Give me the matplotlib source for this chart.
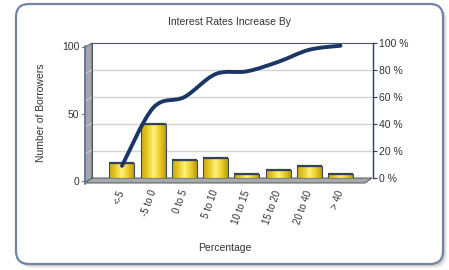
import numpy as np
import matplotlib
matplotlib.use("Agg")
import matplotlib.pyplot as plt
from matplotlib.patches import FancyBboxPatch, Polygon, PathPatch
from matplotlib.path import Path
from matplotlib.colors import LinearSegmentedColormap
import matplotlib.transforms as mtransforms

plt.rcParams['font.family'] = ['Liberation Sans', 'DejaVu Sans']

# data
categories = ["<-5", "-5 to 0", "0 to 5", "5 to 10", "10 to 15", "15 to 20", "20 to 40", "> 40"]
borrowers = [11, 40, 13, 15, 3, 6, 9, 3]
cumulative_pct = [9, 52, 60, 77, 79, 86, 95, 98]
left_ticks = [0, 50, 100]
right_ticks = [0, 20, 40, 60, 80, 100]

W, H = 449, 270
fig = plt.figure(figsize=(W / 100, H / 100), dpi=100)

# background layer in pixel coordinates (card, 3D walls)
bg = fig.add_axes([0, 0, 1, 1])
bg.set_xlim(0, W)
bg.set_ylim(H, 0)
bg.axis('off')
bg.set_zorder(0)

# soft shadow + card
for off, a in [(4, 0.10), (3, 0.15), (2, 0.2)]:
    bg.add_patch(FancyBboxPatch((16 + off, 4 + off), 427, 260, boxstyle="round,pad=0,rounding_size=13",
                                fc='#808080', ec='none', alpha=a))
bg.add_patch(FancyBboxPatch((16, 4), 427, 260, boxstyle="round,pad=0,rounding_size=13",
                            fc='white', ec='#7385A3', lw=1.6))

# left wall and floor of the pseudo-3D box
bg.add_patch(Polygon([(85, 47), (92, 43), (92, 178), (85, 183)], closed=True,
                     fc='#A6A6A6', ec='#55606E', lw=0.7))
for gy in [70, 97, 123, 150]:
    bg.plot([85, 92], [gy + 4, gy], color='#C8C8C8', lw=0.8)
bg.add_patch(Polygon([(92, 178), (372, 178), (365, 183), (85, 183)], closed=True,
                     fc='#A9A9A9', ec='#4A5566', lw=0.7))
bg.plot([85, 85], [46, 184], color='#5A78A8', lw=1.2)
bg.plot([82, 85], [47, 47], color='#5A78A8', lw=0.8)
bg.plot([82, 85], [114, 114], color='#5A78A8', lw=0.8)
bg.plot([82, 85], [181, 181], color='#5A78A8', lw=0.8)

text_color = '#333333'
bg.text(230, 22, "Interest Rates Increase By", ha='center', va='center', fontsize=7.5, color=text_color)
bg.text(41, 113, "Number of Borrowers", ha='center', va='center', rotation=90, fontsize=7.5, color=text_color)
bg.text(225, 248, "Percentage", ha='center', va='center', fontsize=7.5, color=text_color)

# main axes: back wall
ax = fig.add_axes([92 / W, (H - 178) / H, 281 / W, 135 / H])
ax.set_zorder(1)
ax.patch.set_alpha(0)
x = np.arange(len(categories))
ax.set_xlim(-0.96, 8.04)
ax.set_ylim(0, 100)

bar_cmap = LinearSegmentedColormap.from_list(
    'gold', ['#C9A714', '#E6C925', '#FFF27C', '#EBCF2C', '#BE9C0E'])
grad = np.linspace(0, 1, 64).reshape(1, -1)
for xi, v in zip(x, borrowers):
    ax.imshow(grad, cmap=bar_cmap, extent=(xi - 0.4, xi + 0.4, 0, v), aspect='auto', zorder=2)
ax.bar(x, borrowers, width=0.8, facecolor='none', edgecolor='#3E4B5E', lw=0.8, zorder=3)
ax.hlines(borrowers, x - 0.4, x + 0.4, color='#34415A', lw=1.6, zorder=3)
ax.set_xlim(-0.96, 8.04)
ax.set_ylim(0, 100)

ax.set_xticks(x)
ax.set_xticklabels(categories, rotation=70, ha='right', va='center', rotation_mode='anchor',
                   fontsize=7, color=text_color)
ax.tick_params(axis='x', length=0, pad=9)
ax.set_yticks(left_ticks)
ax.set_yticklabels([str(t) for t in left_ticks], fontsize=7.5, color=text_color)
ax.tick_params(axis='y', length=0, pad=9)
shift = mtransforms.ScaledTranslation(0, -3 / 100, fig.dpi_scale_trans)
for lab in ax.get_yticklabels():
    lab.set_transform(lab.get_transform() + shift)
for s in ['left', 'top']:
    ax.spines[s].set_color('#4A5870')
    ax.spines[s].set_linewidth(0.8)
ax.spines['bottom'].set_visible(False)
ax.spines['right'].set_visible(False)

# right axis with cumulative percentage
ax2 = ax.twinx()
ax2.set_zorder(2)
ax2.set_ylim(0, 100)
ax2.set_yticks(right_ticks)
ax2.set_yticklabels([f"{t} %" for t in right_ticks], fontsize=7.5, color=text_color)
ax2.tick_params(axis='y', length=3, width=0.8, color='#2C3E5C', pad=1)
ax2.spines['right'].set_color('#2C3E5C')
ax2.spines['right'].set_linewidth(1.0)
for s in ['left', 'top', 'bottom']:
    ax2.spines[s].set_visible(False)
for gy in right_ticks[1:-1]:
    ax.axhline(gy, color='#D3D3D3', lw=1.0, zorder=1)

# smooth cumulative line (Catmull-Rom drawn as cubic Bezier)
pts = np.column_stack([x, cumulative_pct]).astype(float)
ext = np.vstack([pts[0], pts, pts[-1]])
verts = [tuple(pts[0])]
codes = [Path.MOVETO]
for i in range(len(pts) - 1):
    p0, p1, p2, p3 = ext[i], ext[i + 1], ext[i + 2], ext[i + 3]
    c1 = p1 + (p2 - p0) / 6
    c2 = p2 - (p3 - p1) / 6
    verts += [tuple(c1), tuple(c2), tuple(p2)]
    codes += [Path.CURVE4] * 3
ax2.add_patch(PathPatch(Path(verts, codes), fc='none', ec='#1B3564', lw=2.8,
                        capstyle='round', joinstyle='round', zorder=4))

fig.savefig("out.png", dpi=100)
